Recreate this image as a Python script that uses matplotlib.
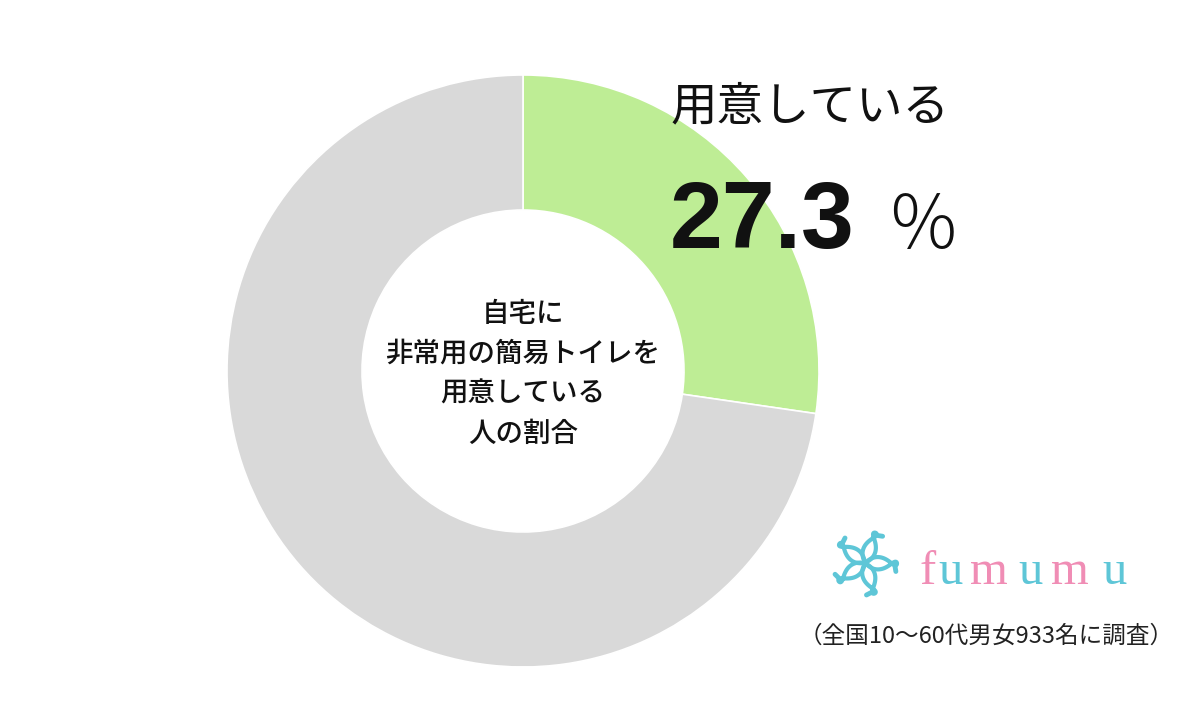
import numpy as np
import matplotlib
matplotlib.use("Agg")
import matplotlib.pyplot as plt

# chart data
labels = ["用意している", "用意していない"]
values = [27.3, 72.7]
colors = ["#BEED95", "#D9D9D9"]

headline_label = "用意している"
headline_value = "27.3"
headline_unit = "％"
center_lines = ["自宅に", "非常用の簡易トイレを", "用意している", "人の割合"]
footnote = "（全国10～60代男女933名に調査）"
logo_letters = ["f", "u", "m", "u", "m", "u"]
logo_colors = ["#F08DB5", "#5EC6D7", "#F08DB5", "#5EC6D7", "#F08DB5", "#5EC6D7"]

W, H = 1200, 711
JP = ["Noto Sans CJK JP", "DejaVu Sans"]


def py(y):
    # pixel row (from top) -> data y
    return H - y


fig = plt.figure(figsize=(12, 7.11), dpi=100)
ax = fig.add_axes([0, 0, 1, 1])

ax.pie(values, colors=colors, startangle=90, counterclock=False,
       radius=296, center=(523, py(371)),
       wedgeprops=dict(width=135, edgecolor="white", linewidth=1.2))
ax.set_xlim(0, W)
ax.set_ylim(0, H)
ax.set_aspect("equal")
ax.axis("off")

# headline
ax.text(671, py(107), headline_label, family=JP, fontsize=33.5,
        ha="left", va="center", color="#111111")
ax.text(670, py(248), headline_value, family=["Liberation Sans"],
        fontsize=68.5, fontweight="bold", ha="left", va="baseline", color="#111111")
ax.text(886, py(249), headline_unit, family=JP, fontsize=53,
        fontweight="light", ha="left", va="baseline", color="#111111")

# centre caption
for i, line in enumerate(center_lines):
    ax.text(523, py(313 + 40 * i), line, family=JP, fontsize=19.8,
            fontweight="medium", ha="center", va="center", color="#111111")

# logo text
xs = [928, 950, 989, 1030, 1070, 1114]
for x, ch, c in zip(xs, logo_letters, logo_colors):
    ax.text(x, py(584), ch, family=["Liberation Serif"], fontsize=35,
            ha="center", va="baseline", color=c)

# logo flower
cx, cy = 865, py(563)
s = np.linspace(0, 1, 80)
for k in range(5):
    base = np.deg2rad(100 + 72 * k)
    r = 32 * np.sin(np.pi * s) ** 0.6
    ang = base + 1.5 * s + 0.35 * np.sin(2 * np.pi * s)
    ax.plot(cx + r * np.cos(ang), cy + r * np.sin(ang),
            color="#5EC6D7", lw=3, solid_capstyle="round")
    # curl at the tip
    tip = base + 0.5
    u = np.linspace(0, 1, 20)
    hx = cx + 32 * np.cos(tip) + 8 * np.cos(tip + 2.0) * u
    hy = cy + 32 * np.sin(tip) + 8 * np.sin(tip + 2.0) * u
    ax.plot(hx, hy, color="#5EC6D7", lw=3.5, solid_capstyle="round")

# footnote
ax.text(986, py(636), footnote, family=JP, fontsize=17,
        ha="center", va="center", color="#222222")

fig.savefig("out.png", dpi=100, facecolor="white")
